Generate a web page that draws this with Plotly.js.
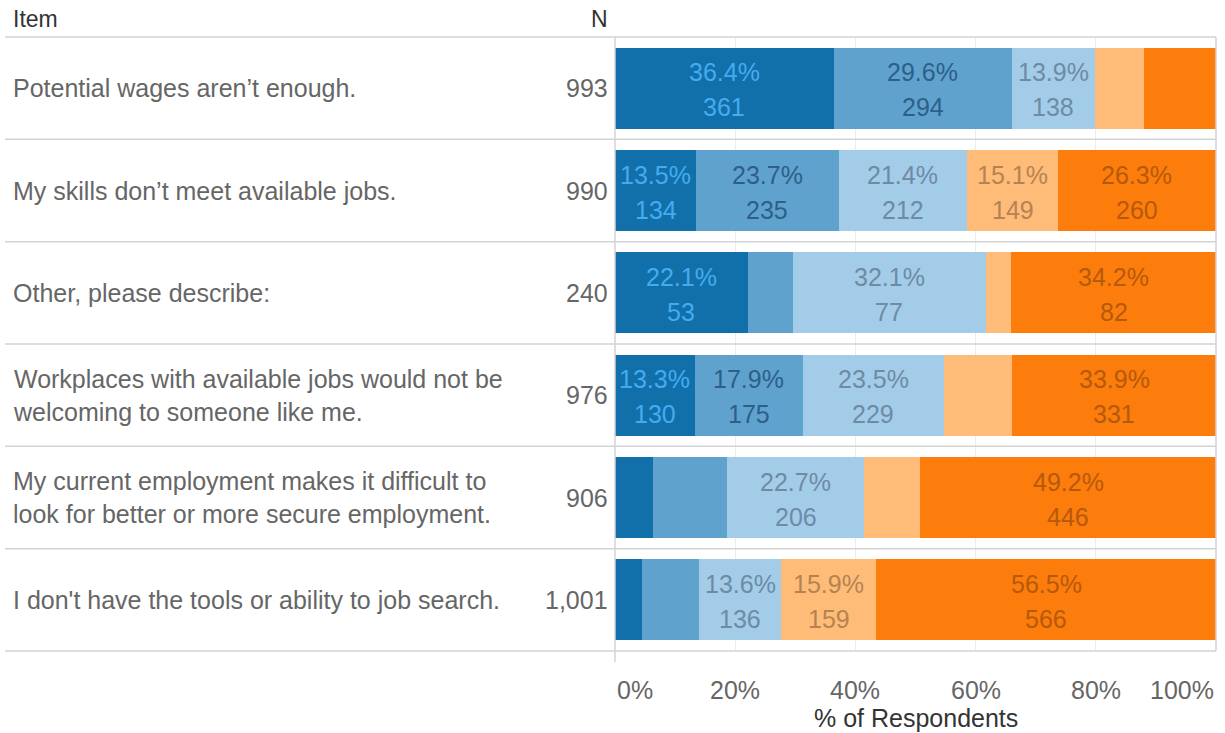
<!DOCTYPE html>
<html>
<head>
<meta charset="utf-8">
<script src="https://cdn.plot.ly/plotly-3.0.1.min.js"></script>
<style>html,body{margin:0;padding:0;background:#fff;}#chart{width:1225px;height:733px;}</style>
</head>
<body>
<div id="chart"></div>
<script>
// ---------- data ----------
const items = [
  "Potential wages aren\u2019t enough.",
  "My skills don\u2019t meet available jobs.",
  "Other, please describe:",
  "Workplaces with available jobs would not be<br>welcoming to someone like me.",
  "My current employment makes it difficult to<br>look for better or more secure employment.",
  "I don't have the tools or ability to job search."
];
const nTotal = ["993", "990", "240", "976", "906", "1,001"];

const seg1Pct = [36.4, 13.5, 22.1, 13.3, 6.3, 4.5];
const seg1N   = [361, 134, 53, 130, 57, 45];
const seg2Pct = [29.6, 23.7, 7.5, 17.9, 12.4, 9.5];
const seg2N   = [294, 235, 18, 175, 112, 95];
const seg3Pct = [13.9, 21.4, 32.1, 23.5, 22.7, 13.6];
const seg3N   = [138, 212, 77, 229, 206, 136];
const seg4Pct = [8.1, 15.1, 4.2, 11.4, 9.4, 15.9];
const seg4N   = [80, 149, 10, 111, 85, 159];
const seg5Pct = [12.1, 26.3, 34.2, 33.9, 49.2, 56.5];
const seg5N   = [120, 260, 82, 331, 446, 566];

const tickVals = [0, 20, 40, 60, 80, 100];
const tickText = ["0%", "20%", "40%", "60%", "80%", "100%"];

// ---------- styles ----------
const FONT = "Liberation Sans, Arial, sans-serif";
const FS = 25;
const segs = [
  {pct: seg1Pct, n: seg1N, color: "#1170aa", text: "#45abef"},
  {pct: seg2Pct, n: seg2N, color: "#5fa2ce", text: "#2e5f88"},
  {pct: seg3Pct, n: seg3N, color: "#a3cce9", text: "#6d8ba5"},
  {pct: seg4Pct, n: seg4N, color: "#ffbc79", text: "#b58352"},
  {pct: seg5Pct, n: seg5N, color: "#fc7d0b", text: "#b5590c"}
];
const rowKeys = items.map((_, i) => "r" + i);

const traces = segs.map((s, k) => ({
  type: "bar",
  orientation: "h",
  y: rowKeys,
  x: s.pct,
  marker: {color: s.color, line: {width: 0}},
  name: "seg" + (k + 1),
  hoverinfo: "skip",
  showlegend: false
}));

const annotations = [];
const shapes = [];

// segment labels
const cum = items.map(() => 0);
segs.forEach(s => {
  s.pct.forEach((p, i) => {
    const mid = cum[i] + p / 2;
    cum[i] += p;
    if (p >= 13) {
      annotations.push({x: mid, y: rowKeys[i], xref: "x", yref: "y", text: p.toFixed(1) + "%",
        showarrow: false, yshift: 16, font: {family: FONT, size: FS, color: s.text}});
      annotations.push({x: mid, y: rowKeys[i], xref: "x", yref: "y", text: String(s.n[i]),
        showarrow: false, yshift: -19, font: {family: FONT, size: FS, color: s.text}});
    }
  });
});

// row labels and N
items.forEach((t, i) => {
  annotations.push({x: -1.005, xref: "paper", y: rowKeys[i], yref: "y", text: t, xanchor: "left",
    align: "left", showarrow: false, font: {family: FONT, size: FS, color: "#666666"}});
  annotations.push({x: -0.0083, xref: "paper", y: rowKeys[i], yref: "y", text: nTotal[i], xanchor: "right",
    showarrow: false, font: {family: FONT, size: FS, color: "#666666"}});
});

// headers
annotations.push({x: -1.005, xref: "paper", y: 1.03, yref: "paper", text: "Item", xanchor: "left",
  yanchor: "middle", showarrow: false, font: {family: FONT, size: 23, color: "#333333"}});
annotations.push({x: -0.0083, xref: "paper", y: 1.03, yref: "paper", text: "N", xanchor: "right",
  yanchor: "middle", showarrow: false, font: {family: FONT, size: 23, color: "#333333"}});

// x tick labels
tickVals.forEach((v, j) => {
  annotations.push({x: v, xref: "x", y: -0.0635, yref: "paper", text: tickText[j],
    xanchor: j === 0 ? "left" : (j === tickVals.length - 1 ? "right" : "center"),
    xshift: j === 0 ? 0 : 0, yanchor: "middle", showarrow: false,
    font: {family: FONT, size: FS, color: "#666666"}});
});
// x axis title
annotations.push({x: 0.5, xref: "paper", y: -0.109, yref: "paper", text: "% of Respondents",
  yanchor: "middle", showarrow: false, font: {family: FONT, size: FS, color: "#333333"}});

// row separator lines
for (let k = 0; k <= items.length; k++) {
  shapes.push({type: "line", xref: "paper", yref: "paper", x0: -1.015, x1: 1.0,
    y0: k / items.length, y1: k / items.length, line: {color: "#d3d3d3", width: 1.5}});
}
// left axis line and right border
shapes.push({type: "line", xref: "paper", yref: "paper", x0: 0, x1: 0, y0: -0.018, y1: 1,
  line: {color: "#d3d3d3", width: 1.5}});
shapes.push({type: "line", xref: "paper", yref: "paper", x0: 1.0, x1: 1.0, y0: 0, y1: 1,
  line: {color: "#d3d3d3", width: 1.5}});

const layout = {
  width: 1225, height: 733,
  margin: {l: 615, r: 9, t: 37, b: 82, pad: 0},
  paper_bgcolor: "#ffffff", plot_bgcolor: "#ffffff",
  barmode: "stack",
  bargap: 0.21,
  xaxis: {range: [0, 100], tickvals: [20, 40, 60, 80], showticklabels: false, showgrid: true,
    gridcolor: "#ececec", gridwidth: 1, zeroline: false, showline: false, ticks: "", fixedrange: true},
  yaxis: {categoryorder: "array", categoryarray: rowKeys, autorange: "reversed",
    showticklabels: false, showgrid: false, zeroline: false, showline: false, ticks: "", fixedrange: true},
  annotations: annotations,
  shapes: shapes,
  font: {family: FONT}
};

Plotly.newPlot("chart", traces, layout, {displayModeBar: false, staticPlot: true});
</script>
</body>
</html>
